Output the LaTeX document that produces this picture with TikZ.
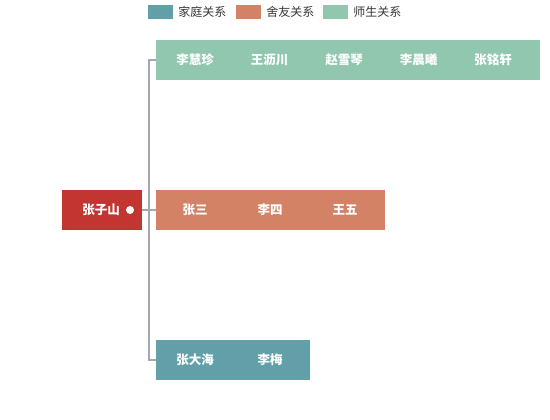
\documentclass[tikz,border=0pt]{standalone}
\usepackage{fontspec}
\setmainfont{Noto Sans CJK SC}
\usepackage{xcolor}
\usepackage{tikz}
\usetikzlibrary{positioning}
\definecolor{rootred}{HTML}{C23531}
\definecolor{famcol}{HTML}{61A0A8}
\definecolor{roomcol}{HTML}{D48265}
\definecolor{teachcol}{HTML}{91C7AE}
\definecolor{linkgray}{HTML}{A3A8AD}
\definecolor{keytext}{HTML}{333333}

\begin{document}
\begin{tikzpicture}[x=1pt,y=-1pt]
            \useasboundingbox (0,0) rectangle (550,420);
            % legend
            \begin{scope}[every node/.style={inner sep=0pt, font=\fontsize{12}{14}\selectfont}]
                \node[fill=famcol, minimum width=25pt, minimum height=14pt] (keyfam) at (160.5,12) {};
                \node[right=5pt of keyfam, text=keytext] (txtfam) {家庭关系};
                \node[fill=roomcol, minimum width=25pt, minimum height=14pt] (keyroom) at (248.5,12) {};
                \node[right=5pt of keyroom, text=keytext] (txtroom) {舍友关系};
                \node[fill=teachcol, minimum width=25pt, minimum height=14pt] (keyteach) at (335.5,12) {};
                \node[right=5pt of keyteach, text=keytext] (txtteach) {师生关系};
            \end{scope}

            \begin{scope}[every node/.style={inner sep=0pt, minimum height=40pt}]
                \node[fill=rootred, minimum width=80pt] (root) at (102,210) {};
                \node[fill=teachcol, minimum width=384pt, anchor=west] (teach) at (156,60) {};
                \node[fill=roomcol, minimum width=229pt, anchor=west] (room) at (156,210) {};
                \node[fill=famcol, minimum width=154pt, anchor=west] (fam) at (156,360) {};
            \end{scope}

            \begin{scope}[every node/.style={text=white, inner sep=0pt, font=\bfseries\fontsize{12.5}{14}\selectfont}]
                \node (rootname) at (101,210) {张子山};
                \node[circle, fill=white, minimum size=8pt] (rootdot) at (130,210) {};
                \foreach \nm [count=\i from 0] in {李慧珍,王沥川,赵雪琴,李晨曦,张铭轩}
                    \node (teach\i) at (195+74.5*\i,60) {\nm};
                \foreach \nm [count=\i from 0] in {张三,李四,王五}
                    \node (room\i) at (195+75*\i,210) {\nm};
                \foreach \nm [count=\i from 0] in {张大海,李梅}
                    \node (fam\i) at (195+75*\i,360) {\nm};
            \end{scope}

            \begin{scope}[every path/.style={draw=linkgray, line width=1.5pt}]
                \coordinate (trunk) at (149,210);
                \path (fam.west) -| (trunk) |- (teach.west);
                \path (root.east) -- (room.west);
            \end{scope}

            \end{tikzpicture}
\end{document}
